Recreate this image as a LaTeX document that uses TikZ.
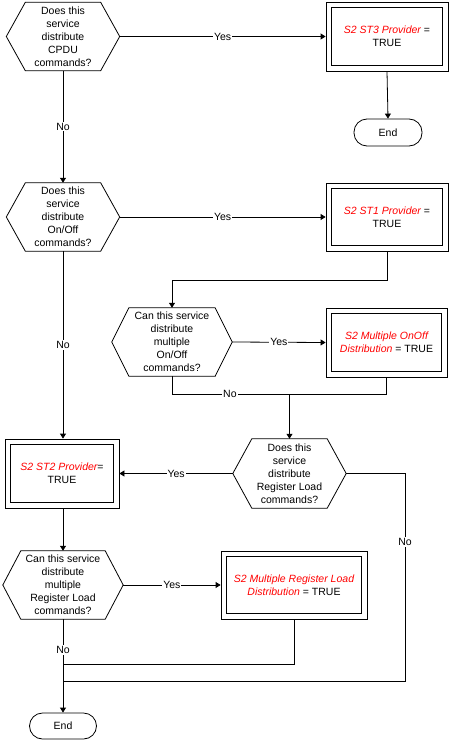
\documentclass[tikz,border=0pt]{standalone}
\usepackage{fontspec}
\setmainfont{Liberation Sans}
\usetikzlibrary{arrows.meta}
\tikzset{
  every node/.style={font=\fontsize{10.5}{13}\selectfont},
  dec/.style={inner sep=0pt, align=center, minimum height=68pt},
  outbox/.style={draw, line width=0.8pt, inner sep=0pt, align=center},
  term/.style={draw, line width=0.8pt, rounded corners=13pt, minimum width=68pt, minimum height=27pt, inner sep=0pt},
  conn/.style={line width=0.8pt},
  arr/.style={conn, -{Triangle[length=5pt,width=6pt]}},
  lbl/.style={fill=white, inner sep=1pt},
  red/.style={}
}
\newcommand{\hexshape}[2]{%
  \draw[line width=0.8pt] (#1.west) -- ([xshift=#2]#1.north west) -- ([xshift=-#2]#1.north east) -- (#1.east) -- ([xshift=-#2]#1.south east) -- ([xshift=#2]#1.south west) -- cycle;}
\newcommand{\innerbox}[1]{%
  \draw[line width=0.8pt] ([shift={(6pt,-6pt)}]#1.north west) rectangle ([shift={(-6pt,6pt)}]#1.south east);}
\newcommand{\rt}[1]{\textcolor{red}{\itshape #1}}
\begin{document}
\begin{tikzpicture}[x=1pt,y=-1pt]
\useasboundingbox (0,0) rectangle (451,741);
% decisions
\node[dec, minimum width=113pt] (h1) at (63,36.5) {Does this\\service\\distribute\\CPDU\\commands?};
\node[dec, minimum width=113pt] (h2) at (63,217) {Does this\\service\\distribute\\On/Off\\commands?};
\node[dec, minimum width=120pt] (h3) at (172,342) {Can this service\\distribute\\multiple\\On/Off\\commands?};
\node[dec, minimum width=113pt, minimum height=69pt] (h4) at (289.5,473.5) {Does this\\service\\distribute\\Register Load\\commands?};
\node[dec, minimum width=120pt] (h5) at (63,585) {Can this service\\distribute\\multiple\\Register Load\\commands?};
\hexshape{h1}{19pt}
\hexshape{h2}{19pt}
\hexshape{h3}{17pt}
\hexshape{h4}{19pt}
\hexshape{h5}{18pt}
% process boxes
\node[outbox, minimum width=122pt, minimum height=69pt] (st3) at (387,36.5) {\rt{S2 ST3 Provider} =\\TRUE};
\node[outbox, minimum width=122pt, minimum height=68pt] (st1) at (387,217) {\rt{S2 ST1 Provider} =\\TRUE};
\node[outbox, minimum width=121pt, minimum height=69pt] (mon) at (386.5,342.5) {\rt{S2 Multiple OnOff}\\\rt{Distribution} = TRUE};
\node[outbox, minimum width=114pt, minimum height=69pt] (st2) at (62,473.5) {\rt{S2 ST2 Provider}=\\TRUE};
\node[outbox, minimum width=146pt, minimum height=68pt] (mreg) at (294,585) {\rt{S2 Multiple Register Load}\\\rt{Distribution} = TRUE};
\innerbox{st3}
\innerbox{st1}
\innerbox{mon}
\innerbox{st2}
\innerbox{mreg}
% terminals
\node[term] (e1) at (388,132.5) {End};
\node[term, minimum width=67pt, minimum height=26pt] (e2) at (63,726) {End};
% junction coordinates
\coordinate (j1) at (0,280);
\coordinate (j2) at (0,394);
\coordinate (j3) at (405,681);
\coordinate (j4) at (0,664);
% connectors
\draw[arr] (h1.east) -- node[lbl]{Yes} (st3.west);
\draw[arr] (st3.south) -- (e1.north);
\draw[arr] (h1.south) -- node[lbl]{No} (h2.north);
\draw[arr] (h2.east) -- node[lbl]{Yes} (st1.west);
\draw[arr] (st1.south) -- (st1.south |- j1) -| (h3.north);
\draw[arr] (h2.south) -- node[lbl]{No} (h2.south |- st2.north);
\draw[arr] (h3.east) -- node[lbl]{Yes} (mon.west);
\draw[conn] (h3.south) -- (h3.south |- j2) -- node[lbl, pos=.27]{No} (mon.south |- j2) -- (mon.south);
\draw[arr] (h4.north |- j2) -- (h4.north);
\draw[arr] (h4.west) -- node[lbl]{Yes} (st2.east);
\draw[conn] (h4.east) -- (h4.east -| j3) -- node[lbl, pos=.33]{No} (j3) -- (j3 -| h5.south);
\draw[arr] (st2.south) -- (st2.south -| h5.north) -- (h5.north);
\draw[arr] (h5.east) -- node[lbl]{Yes} (mreg.west);
\draw[arr] (h5.south) -- node[lbl, pos=.33]{No} (e2.north);
\draw[conn] (mreg.south) -- (mreg.south |- j4) -- (j4 -| h5.south);
\end{tikzpicture}
\end{document}
